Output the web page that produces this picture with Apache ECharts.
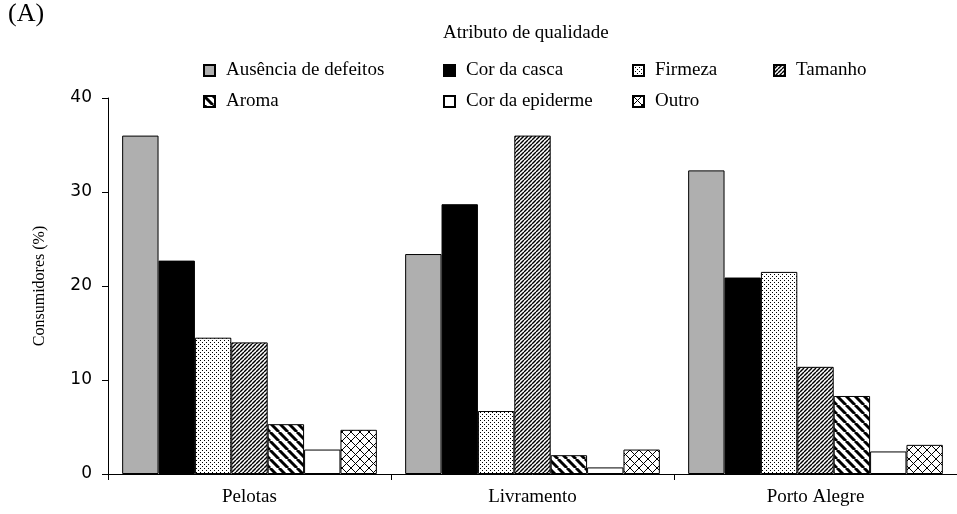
<!DOCTYPE html>
<html>
<head>
<meta charset="utf-8">
<script src="https://cdn.jsdelivr.net/npm/echarts@6/dist/echarts.min.js"></script>
<style>
  html, body { margin: 0; padding: 0; background: #fff; }
  #grafico { width: 957px; height: 514px; }
</style>
</head>
<body>
<div id="grafico"></div>
<script>
// Cidades e atributos
const cidades = ['Pelotas', 'Livramento', 'Porto Alegre'];
const atributos = ['Ausência de defeitos', 'Cor da casca', 'Firmeza', 'Tamanho', 'Aroma', 'Cor da epiderme', 'Outro'];

// Consumidores (%) por atributo, na ordem das cidades
const ausenciaDefeitos = [36.0, 23.4, 32.3];
const corCasca = [22.7, 28.7, 20.9];
const firmeza = [14.5, 6.7, 21.5];
const tamanho = [14.0, 36.0, 11.4];
const aroma = [5.3, 2.0, 8.3];
const corEpiderme = [2.6, 0.7, 2.4];
const outro = [4.7, 2.6, 3.1];

const valores = [ausenciaDefeitos, corCasca, firmeza, tamanho, aroma, corEpiderme, outro];

const fonte = '"Liberation Serif", "DejaVu Serif", serif';
const fonteNum = '"DejaVu Sans", "Liberation Sans", sans-serif';

/**
 * Criar padrão de preenchimento num canvas pequeno
 */
function criarPadrao(tam, desenhar) {
  const c = document.createElement('canvas');
  c.width = tam;
  c.height = tam;
  const ctx = c.getContext('2d');
  ctx.fillStyle = '#fff';
  ctx.fillRect(0, 0, tam, tam);
  ctx.strokeStyle = '#000';
  ctx.fillStyle = '#000';
  desenhar(ctx, tam);
  return { image: c, repeat: 'repeat' };
}

// pontilhado (Firmeza)
const padraoPontos = criarPadrao(4, function(ctx) {
  ctx.fillRect(0, 0, 1, 1);
  ctx.fillRect(2, 2, 1, 1);
});

// riscas finas "/" (Tamanho)
const padraoBarraFina = criarPadrao(4, function(ctx, s) {
  ctx.lineWidth = 1.4;
  for (let k = -1; k <= 1; k++) {
    ctx.beginPath();
    ctx.moveTo(k * s, s);
    ctx.lineTo(k * s + s, 0);
    ctx.stroke();
  }
});

// riscas grossas "\" (Aroma)
const padraoBarraGrossa = criarPadrao(9, function(ctx, s) {
  ctx.lineWidth = 3;
  for (let k = -1; k <= 1; k++) {
    ctx.beginPath();
    ctx.moveTo(k * s, 0);
    ctx.lineTo(k * s + s, s);
    ctx.stroke();
  }
});

// quadriculado diagonal (Outro)
const padraoCruzado = criarPadrao(9, function(ctx, s) {
  ctx.lineWidth = 1;
  for (let k = -1; k <= 1; k++) {
    ctx.beginPath();
    ctx.moveTo(k * s, 0);
    ctx.lineTo(k * s + s, s);
    ctx.moveTo(k * s, s);
    ctx.lineTo(k * s + s, 0);
    ctx.stroke();
  }
});

const preenchimentos = ['#afafaf', '#000000', padraoPontos, padraoBarraFina, padraoBarraGrossa, '#ffffff', padraoCruzado];

const chart = echarts.init(document.getElementById('grafico'), null, { renderer: 'canvas' });

function legenda(nomes, left) {
  return {
    data: nomes,
    orient: 'vertical',
    left: left,
    top: 60,
    padding: 0,
    itemGap: 10,
    itemWidth: 11,
    itemHeight: 11,
    icon: 'rect',
    selectedMode: false,
    textStyle: { fontFamily: fonte, fontSize: 19, lineHeight: 21, color: '#000', padding: [0, 0, 0, 6] }
  };
}

const option = {
  backgroundColor: '#fff',
  animation: false,
  title: [
    { text: '(A)', left: 8, top: 1, padding: 0, textStyle: { fontFamily: fonte, fontSize: 26, fontWeight: 'normal', color: '#000' } },
    { text: 'Atributo de qualidade', left: 443, top: 24, padding: 0, textStyle: { fontFamily: fonte, fontSize: 19, fontWeight: 'normal', color: '#000' } }
  ],
  legend: [
    legenda(['Ausência de defeitos', 'Aroma'], 203),
    legenda(['Cor da casca', 'Cor da epiderme'], 443),
    legenda(['Firmeza', 'Outro'], 632),
    legenda(['Tamanho'], 773)
  ],
  grid: { left: 108, top: 98, width: 858, height: 376 },
  xAxis: {
    type: 'category',
    data: cidades,
    axisLine: { lineStyle: { color: '#000', width: 1 } },
    axisTick: { show: true, length: 6, interval: 0, lineStyle: { color: '#000' } },
    axisLabel: { fontFamily: fonte, fontSize: 19, color: '#000', margin: 14 },
    splitLine: { show: false }
  },
  yAxis: {
    type: 'value',
    min: 0,
    max: 40,
    interval: 10,
    name: 'Consumidores (%)',
    nameLocation: 'middle',
    nameGap: 60,
    nameTextStyle: { fontFamily: fonte, fontSize: 16, color: '#000' },
    axisLine: { show: true, lineStyle: { color: '#000', width: 1 } },
    axisTick: { show: true, length: 6, lineStyle: { color: '#000' } },
    axisLabel: { fontFamily: fonteNum, fontSize: 17, color: '#000', margin: 16 },
    splitLine: { show: false }
  },
  series: atributos.map(function(nome, i) {
    return {
      name: nome,
      type: 'bar',
      data: valores[i],
      barGap: '0%',
      barCategoryGap: '10%',
      itemStyle: {
        color: preenchimentos[i],
        borderColor: '#000',
        borderWidth: 1
      }
    };
  })
};

chart.setOption(option);
</script>
</body>
</html>
